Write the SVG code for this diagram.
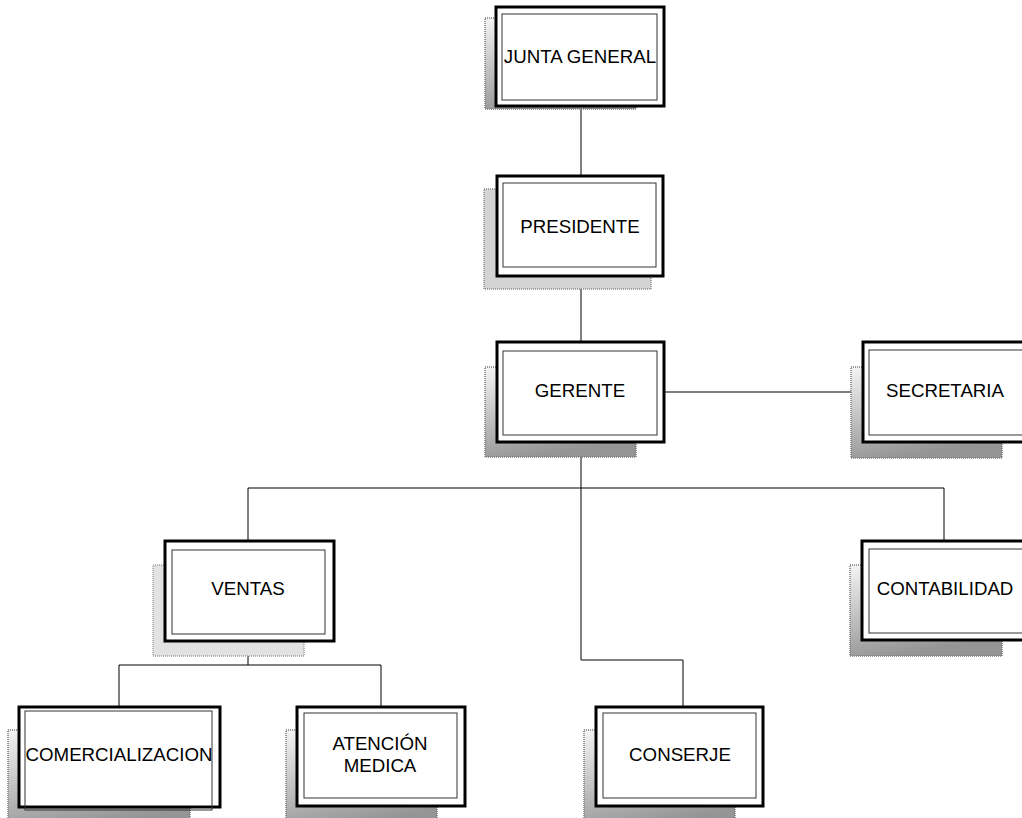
<svg xmlns="http://www.w3.org/2000/svg" width="1022" height="818" viewBox="0 0 1022 818">
<defs>
<linearGradient id="sh" x1="0" y1="0" x2="0.3" y2="1">
<stop offset="0" stop-color="#f4f4f4"/>
<stop offset="1" stop-color="#959595"/>
</linearGradient>
<style>
.sh{fill:url(#sh);stroke:#7a7a7a;stroke-width:1.5;stroke-dasharray:1 1}
.shl{fill:#d4d4d4;stroke:#8a8a8a;stroke-width:1.5;stroke-dasharray:1 1}
.shv{fill:#e2e2e2;stroke:#a0a0a0;stroke-width:1.5;stroke-dasharray:1 1}
.out{fill:#ffffff;stroke:#000;stroke-width:3}
.in{fill:none;stroke:#333;stroke-width:1}
.t{font-family:"Liberation Sans",Arial,sans-serif;font-size:18.7px;fill:#000;text-anchor:middle}
.c{fill:none;stroke:#000;stroke-width:1}
</style>
</defs>
<rect width="1022" height="818" fill="#fff"/>
<g id="connectors">
<line class="c" x1="581" y1="106" x2="581" y2="176"/>
<line class="c" x1="581" y1="276" x2="581" y2="342"/>
<line class="c" x1="664" y1="392" x2="863" y2="392"/>
<polyline class="c" points="581,442 581,660 683,660 683,707"/>
<polyline class="c" points="248,541 248,488 944,488 944,541"/>
<line class="c" x1="248" y1="641" x2="248" y2="665"/>
<polyline class="c" points="119,707 119,665 381,665 381,707"/>
</g>
<g id="junta">
<rect class="sh" x="485" y="18" width="151" height="91"/>
<rect class="out" x="496" y="7" width="168" height="99"/>
<rect class="in" x="502" y="14" width="155" height="86"/>
<text class="t" x="580" y="63">JUNTA GENERAL</text>
</g>
<g id="presidente">
<rect class="shl" x="484" y="189" width="167" height="100"/>
<rect class="out" x="497" y="176" width="166" height="100"/>
<rect class="in" x="503" y="183" width="153" height="84"/>
<text class="t" x="580" y="233">PRESIDENTE</text>
</g>
<g id="gerente">
<rect class="sh" x="485" y="367" width="151" height="90"/>
<rect class="out" x="497" y="342" width="167" height="100"/>
<rect class="in" x="503" y="351" width="154" height="84"/>
<text class="t" x="580" y="397">GERENTE</text>
</g>
<g id="secretaria">
<rect class="sh" x="851" y="367" width="151" height="91"/>
<rect class="out" x="863" y="342" width="168" height="100"/>
<rect class="in" x="869" y="350" width="155" height="85"/>
<text class="t" x="945" y="397">SECRETARIA</text>
</g>
<g id="ventas">
<rect class="shv" x="153" y="565" width="151" height="91"/>
<rect class="out" x="165" y="541" width="169" height="100"/>
<rect class="in" x="172" y="550" width="153" height="84"/>
<text class="t" x="248" y="595">VENTAS</text>
</g>
<g id="contabilidad">
<rect class="sh" x="850" y="565" width="152" height="91"/>
<rect class="out" x="862" y="541" width="169" height="99"/>
<rect class="in" x="869" y="549" width="155" height="84"/>
<text class="t" x="945" y="595">CONTABILIDAD</text>
</g>
<g id="comercializacion">
<rect class="sh" x="8" y="730" width="182" height="100"/>
<rect class="out" x="19" y="707" width="201" height="100"/>
<rect class="in" x="25" y="711" width="187" height="99"/>
<text class="t" x="119" y="761">COMERCIALIZACION</text>
</g>
<g id="atencion">
<rect class="sh" x="286" y="730" width="151" height="100"/>
<rect class="out" x="297" y="707" width="168" height="99"/>
<rect class="in" x="304" y="713" width="153" height="85"/>
<text class="t" x="380" y="750">ATENCIÓN</text>
<text class="t" x="380" y="772">MEDICA</text>
</g>
<g id="conserje">
<rect class="sh" x="584" y="730" width="151" height="100"/>
<rect class="out" x="596" y="707" width="167" height="99"/>
<rect class="in" x="603" y="713" width="153" height="85"/>
<text class="t" x="680" y="761">CONSERJE</text>
</g>
</svg>
